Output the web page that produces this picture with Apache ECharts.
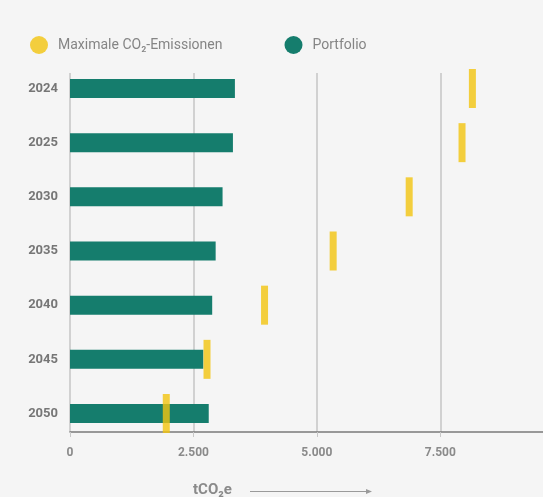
<!DOCTYPE html>
<html>
<head>
<meta charset="utf-8">
<script src="https://cdn.jsdelivr.net/npm/echarts@6/dist/echarts.min.js"></script>
<style>
  html, body { margin: 0; padding: 0; background: #f5f5f5; }
  #chart { width: 543px; height: 497px; }
</style>
</head>
<body>
<div id="chart"></div>
<script>
// data
const years = ['2024', '2025', '2030', '2035', '2040', '2045', '2050'];
const portfolio = [3340, 3300, 3090, 2950, 2880, 2700, 2810];
const maxEmissions = [8150, 7940, 6870, 5330, 3940, 2775, 1950];
const xTicks = [0, 2500, 5000, 7500];

const GREEN = '#157d6d';
const YELLOW = '#f2c40f';
const fmt = v => String(v).replace(/\B(?=(\d{3})+(?!\d))/g, '.');

const chart = echarts.init(document.getElementById('chart'));
chart.setOption({
  backgroundColor: '#f5f5f5',
  animation: false,
  textStyle: { fontFamily: 'Roboto' },
  legend: {
    left: 25,
    top: 31,
    itemWidth: 18,
    itemHeight: 18,
    itemGap: 62,
    icon: 'circle',
    data: ['Maximale CO₂-Emissionen', 'Portfolio'],
    textStyle: { color: '#858585', fontSize: 14, padding: [0, 0, 0, 5] },
  },
  grid: [
    // bars
    { left: 70, right: 0, top: 61.4, height: 379.2 },
    // axis frame
    { left: 70, right: 0, top: 73, height: 359 },
  ],
  xAxis: [
    { gridIndex: 0, type: 'value', min: 0, max: 9580, show: false },
    {
      gridIndex: 1,
      type: 'value',
      min: 0,
      max: 9580,
      interval: 2500,
      axisLine: { show: true, lineStyle: { color: '#7a7a7a', width: 1.5 } },
      axisTick: { show: true, length: 5, lineStyle: { color: '#c8c8c8' } },
      axisLabel: {
        color: '#8a8a8a',
        fontSize: 12,
        fontWeight: 'bold',
        margin: 15,
        showMaxLabel: false,
        formatter: v => (xTicks.includes(v) ? fmt(v) : ''),
      },
      splitLine: { show: true, showMaxLine: false, lineStyle: { color: '#c4c4c4', width: 1.5 } },
    },
  ],
  yAxis: [
    {
      gridIndex: 0,
      type: 'category',
      inverse: true,
      data: years,
      axisLine: { show: false },
      axisTick: { show: false },
      axisLabel: { color: '#767676', fontSize: 13, fontWeight: 'bold', margin: 12 },
    },
    { gridIndex: 1, type: 'value', min: 0, max: 1, show: false },
  ],
  series: [
    {
      name: 'Portfolio',
      type: 'bar',
      xAxisIndex: 0,
      yAxisIndex: 0,
      barWidth: 19,
      itemStyle: { color: GREEN },
      data: portfolio,
      z: 2,
    },
    {
      name: 'Maximale CO₂-Emissionen',
      type: 'scatter',
      xAxisIndex: 0,
      yAxisIndex: 0,
      symbol: 'rect',
      symbolSize: [7, 39],
      itemStyle: { color: YELLOW },
      data: maxEmissions.map((v, i) => [v, years[i]]),
      z: 3,
    },
  ],
  graphic: [
    {
      type: 'text',
      left: 193,
      top: 483,
      style: { text: 'tCO₂e', fill: '#8a8a8a', fontSize: 15, fontWeight: 'bold', fontFamily: 'Roboto' },
    },
    {
      type: 'line',
      shape: { x1: 250, y1: 491.5, x2: 366, y2: 491.5 },
      style: { stroke: '#9a9a9a', lineWidth: 1 },
    },
    {
      type: 'polygon',
      shape: { points: [[366, 489], [372, 491.5], [366, 494]] },
      style: { fill: '#9a9a9a' },
    },
  ],
});
</script>
</body>
</html>
